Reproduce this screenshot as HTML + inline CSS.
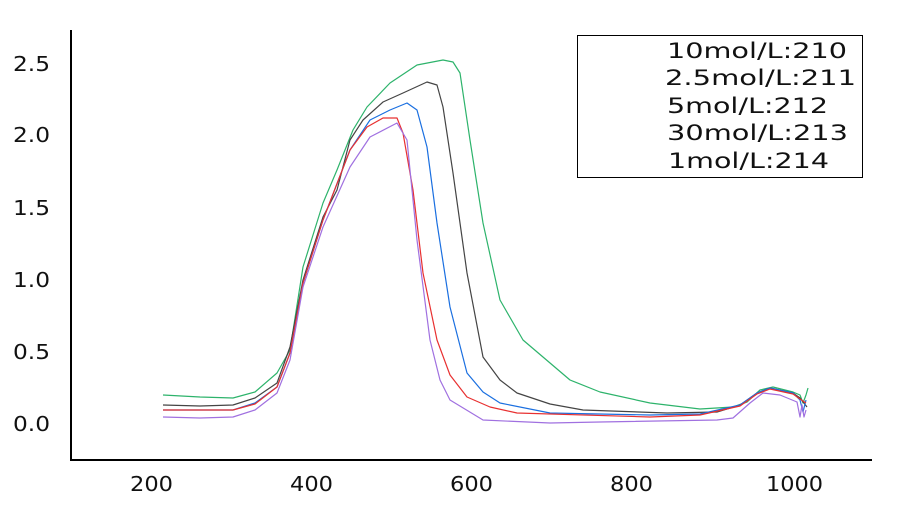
<!DOCTYPE html>
<html><head><meta charset="utf-8"><style>
body{margin:0;background:#fff;width:900px;height:500px;overflow:hidden}
svg text{font-family:"DejaVu Sans","Liberation Sans",sans-serif;fill:#111}
</style></head><body>
<svg width="900" height="500" viewBox="0 0 900 500">
<line x1="71" y1="30" x2="71" y2="461" stroke="#000" stroke-width="2"/>
<line x1="70" y1="460" x2="872" y2="460" stroke="#000" stroke-width="2"/>
<g font-size="20">
<text x="13" y="431" textLength="37" lengthAdjust="spacingAndGlyphs">0.0</text>
<text x="13" y="359" textLength="37" lengthAdjust="spacingAndGlyphs">0.5</text>
<text x="13" y="287" textLength="37" lengthAdjust="spacingAndGlyphs">1.0</text>
<text x="13" y="215" textLength="37" lengthAdjust="spacingAndGlyphs">1.5</text>
<text x="13" y="142" textLength="37" lengthAdjust="spacingAndGlyphs">2.0</text>
<text x="13" y="71" textLength="37" lengthAdjust="spacingAndGlyphs">2.5</text>
<text x="130" y="491" textLength="43" lengthAdjust="spacingAndGlyphs">200</text>
<text x="290" y="491" textLength="43" lengthAdjust="spacingAndGlyphs">400</text>
<text x="450" y="491" textLength="43" lengthAdjust="spacingAndGlyphs">600</text>
<text x="610" y="491" textLength="43" lengthAdjust="spacingAndGlyphs">800</text>
<text x="766" y="491" textLength="57" lengthAdjust="spacingAndGlyphs">1000</text>
</g>
<g fill="none" stroke-width="1.2" stroke-linejoin="round">
<polyline stroke="#2db36b" points="163,395 200,397 233,398 255,392 277,373 290,350 303,267 323,203 337,170 353,130 367,107 390,83 417,65 443,60 453,62 460,73 470,140 483,223 500,300 523,340 570,380 600,392 650,403 700,409 733,407 747,402 760,390 773,387 793,392 800,395 803,403 806,395 808,388"/>
<polyline stroke="#444" points="163,405 200,406 233,405 255,398 277,383 290,347 303,280 323,217 337,190 350,140 363,120 383,102 403,93 427,82 437,85 443,107 453,173 467,273 483,357 500,380 517,393 550,404 583,410 667,413 717,412 740,405 757,393 770,388 793,393 800,398 807,407"/>
<polyline stroke="#1a6fe0" points="163,410 200,410 233,410 255,403 277,387 290,353 303,283 323,220 350,150 370,120 390,110 407,103 417,110 427,147 437,223 450,307 467,373 483,392 500,403 550,413 650,415 700,414 740,405 757,393 770,388 793,393 800,400 803,412 806,400"/>
<polyline stroke="#e83030" points="163,410 200,410 233,410 255,404 277,387 290,353 303,283 323,220 350,150 367,127 383,118 397,118 403,133 413,190 423,273 437,340 450,375 467,397 490,407 517,413 650,417 700,415 740,406 757,394 770,389 793,394 800,399 806,403"/>
<polyline stroke="#a070e0" points="163,417 200,418 233,417 255,410 277,393 290,360 303,287 323,227 350,167 370,137 397,123 407,140 417,240 430,340 440,380 450,400 483,420 550,423 600,422 717,420 733,418 750,403 763,393 780,395 797,402 800,417 802,405 804,417 806,410"/>
</g>
<rect x="577.5" y="35.5" width="285" height="142" fill="#fff" stroke="#000"/>
<g font-size="21">
<text x="667" y="58" textLength="180" lengthAdjust="spacingAndGlyphs">10mol/L:210</text>
<text x="665" y="85" textLength="191" lengthAdjust="spacingAndGlyphs">2.5mol/L:211</text>
<text x="667" y="113" textLength="161" lengthAdjust="spacingAndGlyphs">5mol/L:212</text>
<text x="667" y="140" textLength="181" lengthAdjust="spacingAndGlyphs">30mol/L:213</text>
<text x="668" y="168" textLength="161" lengthAdjust="spacingAndGlyphs">1mol/L:214</text>
</g>
</svg>
</body></html>
